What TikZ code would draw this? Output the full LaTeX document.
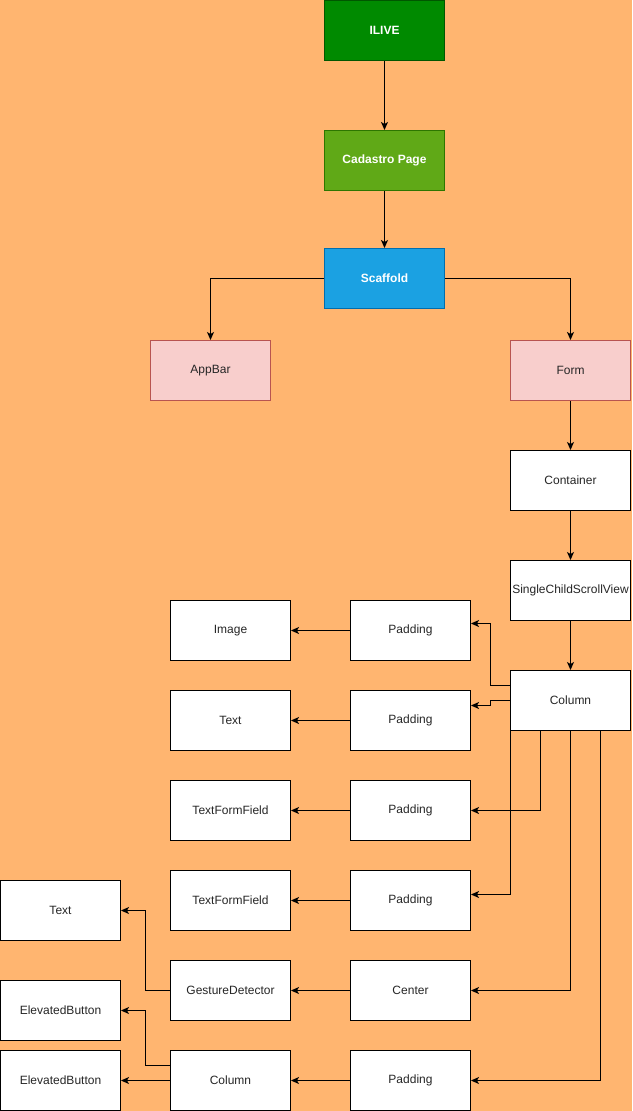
\documentclass[tikz,border=0pt]{standalone}
\usepackage{fontspec}
\setmainfont{Liberation Sans}
\usetikzlibrary{arrows.meta,positioning}
\definecolor{bgorange}{HTML}{FFB570}
\definecolor{darkgreen}{HTML}{008A00}
\definecolor{darkgreenline}{HTML}{005700}
\definecolor{leafgreen}{HTML}{60A917}
\definecolor{leafgreenline}{HTML}{2D7600}
\definecolor{skyblue}{HTML}{1BA1E2}
\definecolor{skyblueline}{HTML}{006EAF}
\definecolor{rosefill}{HTML}{F8CECC}
\definecolor{roseline}{HTML}{B85450}
\tikzset{
  box/.style={draw=black, fill=white, line width=1pt, minimum width=120pt, minimum height=60pt,
    inner sep=0pt, anchor=north west, font=\fontsize{12}{14}\selectfont, text=black!85},
  headbox/.style={box, font=\fontsize{12}{14}\selectfont\bfseries, text=white},
  arr/.style={draw=black, line width=1pt, -{Stealth[length=8pt,width=7pt,inset=2pt]}},
}
\begin{document}
\begin{tikzpicture}[x=1pt,y=-1pt]
\useasboundingbox[fill=bgorange] (0,0) rectangle (632,1111);

% top chain
\node[headbox, fill=darkgreen, draw=darkgreenline] (ilive) at (324,0) {ILIVE};
\node[headbox, fill=leafgreen, draw=leafgreenline] (cad) at (324,130) {Cadastro Page};
\node[headbox, fill=skyblue, draw=skyblueline] (scaf) at (324,248) {Scaffold};
\node[box, fill=rosefill, draw=roseline] (appbar) at (150,340) {AppBar};
\node[box, fill=rosefill, draw=roseline] (form) at (510,340) {Form};

% right column
\node[box] (cont) at (510,450) {Container};
\node[box] (scroll) at (510,560) {SingleChildScrollView};
\node[box] (col) at (510,670) {Column};

% middle column
\node[box] (pad1) at (350,600) {Padding};
\node[box] (pad2) at (350,690) {Padding};
\node[box] (pad3) at (350,780) {Padding};
\node[box] (pad4) at (350,870) {Padding};
\node[box] (center) at (350,960) {Center};
\node[box] (pad5) at (350,1050) {Padding};

% leaf widgets
\node[box] (img) at (170,600) {Image};
\node[box] (txt1) at (170,690) {Text};
\node[box] (tff1) at (170,780) {TextFormField};
\node[box] (tff2) at (170,870) {TextFormField};
\node[box] (gest) at (170,960) {GestureDetector};
\node[box] (col2) at (170,1050) {Column};

\node[box] (txt2) at (0,880) {Text};
\node[box] (eb1) at (0,980) {ElevatedButton};
\node[box] (eb2) at (0,1050) {ElevatedButton};

% connectors
\draw[arr] (ilive) -- (cad);
\draw[arr] (cad) -- (scaf);
\draw[arr] (scaf.west) -| (appbar.north);
\draw[arr] (scaf.east) -| (form.north);
\draw[arr] (form) -- (cont);
\draw[arr] (cont) -- (scroll);
\draw[arr] (scroll) -- (col);

\draw[arr] ([yshift=15pt]col.west) -- ++(-20pt,0) |- ([yshift=7pt]pad1.east);
\draw[arr] (col.west) -- ++(-20pt,0) |- ([yshift=15pt]pad2.east);
\draw[arr] ([xshift=-30pt]col.south) |- (pad3.east);
\draw[arr] (col.south west) |- ([yshift=6pt]pad4.east);
\draw[arr] (col.south) |- (center.east);
\draw[arr] ([xshift=30pt]col.south) |- (pad5.east);

\draw[arr] (pad1) -- (img);
\draw[arr] (pad2) -- (txt1);
\draw[arr] (pad3) -- (tff1);
\draw[arr] (pad4) -- (tff2);
\draw[arr] (center) -- (gest);
\draw[arr] (pad5) -- (col2);

\draw[arr] (gest.west) -- ++(-25pt,0) |- (txt2.east);
\draw[arr] ([yshift=15pt]col2.west) -- ++(-25pt,0) |- (eb1.east);
\draw[arr] (col2) -- (eb2);
\end{tikzpicture}
\end{document}
